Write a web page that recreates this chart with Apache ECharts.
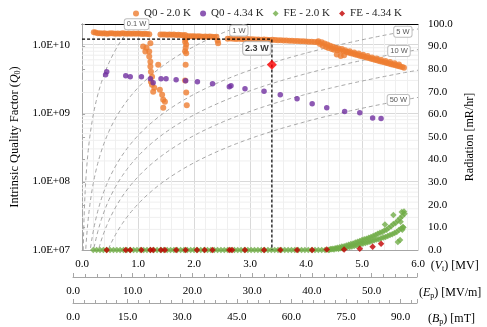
<!DOCTYPE html>
<html>
<head>
<meta charset="utf-8">
<script src="https://cdn.jsdelivr.net/npm/echarts@6/dist/echarts.min.js"></script>
<style>
  html, body {margin: 0; padding: 0; background: #fff;}
  #chart {width: 487px; height: 327px;}
</style>
</head>
<body>
<div id="chart"></div>
<script>
const serif = 'Liberation Serif';
const sans = 'Liberation Sans';

// Q0 - 2.0 K : accelerating voltage [MV] / Q0
const q20V = [
  0.21,0.24,0.28,0.32,0.36,0.40,0.44,0.48,0.52,0.56,0.60,0.64,0.68,0.72,0.76,0.80,0.84,0.88,0.92,0.96,1.00,1.04,1.08,1.12,1.16,1.20,
  1.09,1.15,1.13,1.20,1.22,1.20,1.22,1.22,1.23,1.25,1.23,1.25,1.29,1.27,1.36,1.39,1.43,1.45,1.48,1.45,
  1.40,1.44,1.48,1.52,1.56,1.60,1.64,1.68,1.72,1.76,1.80,1.84,
  1.85,1.84,1.86,1.85,1.84,1.86,1.85,1.84,1.86,1.87,
  1.88,1.92,1.96,2.00,2.04,2.08,2.12,2.16,2.20,2.24,2.28,2.32,2.36,2.40,2.42,2.43,
  2.60,2.65,2.70,2.75,2.80,2.85,2.90,2.95,3.00,3.05,3.10,3.15,3.20,3.25,3.30,3.35,3.40,3.45,3.50,3.55,3.60,3.65,3.70,3.75,3.80,3.85,3.90,3.95,4.00,4.05,4.10,4.15,4.20,
  4.22,4.25,4.28,4.30,4.33,4.36,4.38,4.40,4.43,4.46,4.48,4.50,4.53,4.55,4.56,4.58,4.61,4.62,4.64,4.67,4.68,4.70,4.73,
  4.76,4.80,4.84,4.88,4.92,4.96,5.00,5.04,5.08,5.12,5.16,5.20,5.24,5.28,5.32,5.36,5.40,5.44,5.48,5.52,5.56,5.60,5.64,5.68,5.72,5.75,
  4.78,4.86,4.94,5.02,5.10,5.18,5.26,5.34,5.42,5.50,5.58,5.66
];
const q20Q = [
  1.52e10,1.50e10,1.47e10,1.46e10,1.45e10,1.46e10,1.44e10,1.45e10,1.46e10,1.45e10,1.44e10,1.45e10,1.44e10,1.46e10,1.45e10,1.44e10,1.45e10,1.44e10,1.45e10,1.44e10,1.45e10,1.44e10,1.43e10,1.44e10,1.43e10,1.42e10,
  9.35e9,9.0e9,7.9e9,7.9e9,1.05e10,6.7e9,5.6e9,4.8e9,4.0e9,3.4e9,2.87e9,2.6e9,2.35e9,2.05e9,5.1e9,2.19e9,1.85e9,1.57e9,1.46e9,1.2e9,
  1.40e10,1.41e10,1.40e10,1.39e10,1.40e10,1.39e10,1.40e10,1.38e10,1.39e10,1.38e10,1.37e10,1.38e10,
  1.2e10,1.1e10,1.0e10,9.0e9,8.0e9,7.5e9,5.1e9,3.0e9,2.0e9,1.3e9,
  1.33e10,1.32e10,1.33e10,1.32e10,1.31e10,1.32e10,1.31e10,1.30e10,1.31e10,1.30e10,1.31e10,1.30e10,1.29e10,1.30e10,1.15e10,1.05e10,
  1.22e10,1.23e10,1.22e10,1.21e10,1.22e10,1.21e10,1.20e10,1.21e10,1.20e10,1.20e10,1.19e10,1.19e10,1.18e10,1.19e10,1.18e10,1.17e10,1.18e10,1.17e10,1.16e10,1.16e10,1.15e10,1.15e10,1.14e10,1.14e10,1.13e10,1.13e10,1.12e10,1.12e10,1.11e10,1.10e10,1.10e10,1.09e10,1.08e10,
  1.12e10,1.02e10,1.08e10,9.6e9,1.04e10,9.2e9,1.0e10,8.9e9,9.6e9,8.6e9,9.3e9,8.4e9,9.0e9,7.2e9,8.3e9,8.8e9,8.2e9,6.8e9,8.6e9,8.0e9,7.0e9,8.3e9,7.8e9,
  7.64e9,7.48e9,7.33e9,7.19e9,7.04e9,6.90e9,6.76e9,6.63e9,6.50e9,6.35e9,6.22e9,6.10e9,5.97e9,5.85e9,5.73e9,5.62e9,5.51e9,5.40e9,5.29e9,5.18e9,5.08e9,4.98e9,4.87e9,4.78e9,4.69e9,4.60e9,
  8.0e9,7.7e9,7.4e9,7.1e9,6.8e9,6.5e9,6.25e9,6.0e9,5.78e9,5.55e9,5.33e9,5.12e9
];

// Q0 - 4.34 K
const q434V = [0.42,0.44,0.78,0.86,1.06,1.22,1.27,1.41,1.50,1.68,1.85,2.06,2.33,2.63,2.66,2.91,3.25,3.54,3.84,4.11,4.37,4.69,4.96,5.19,5.34];
const q434Q = [3.64e9,4.03e9,3.52e9,3.4e9,3.4e9,3.18e9,2.78e9,3.18e9,3.18e9,3.07e9,2.97e9,2.87e9,2.69e9,2.43e9,2.51e9,2.27e9,2.08e9,1.85e9,1.62e9,1.37e9,1.2e9,1.05e9,1.01e9,8.5e8,8.3e8];

// FE - 2.0 K : radiation [mR/hr]; flat part reads 0.0
const fe20FlatV = [
  0.20,0.26,0.32,0.38,0.44,0.50,0.56,0.62,0.68,0.74,0.80,0.86,0.92,0.98,1.04,1.10,1.16,1.22,1.28,1.34,1.40,1.46,1.52,1.58,1.64,1.70,
  1.76,1.82,1.88,1.94,2.00,2.06,2.12,2.18,2.24,2.30,2.36,2.42,2.48,2.54,2.60,2.66,2.72,2.78,2.84,2.90,2.96,3.02,3.08,3.14,3.20,3.26,
  3.32,3.38,3.44,3.50,3.56,3.62,3.68,3.74,3.80,3.86,3.92,3.98,4.04,4.10,4.16,4.22,4.28,4.34,4.40
];
const fe20RiseV = [
  4.42,4.46,4.50,4.54,4.58,4.62,4.66,4.70,4.74,4.78,4.82,4.86,4.90,4.94,4.98,5.02,5.06,5.10,5.14,5.18,5.22,5.26,5.30,5.34,5.38,5.42,5.46,5.50,5.54,5.58,5.62,5.66,5.70,5.74,
  4.44,4.48,4.52,4.56,4.60,4.64,4.68,4.72,4.76,4.80,4.84,4.88,4.92,4.96,5.00,5.04,5.08,5.12,5.16,5.20,5.24,5.28,5.32,5.36,5.40,5.44,5.48,5.52,5.56,5.60,5.64,5.68,5.72,5.76,
  5.41,5.56,5.64,5.68,5.72,5.73,5.75,5.71,5.69
];
const fe20RiseR = [
  0.1,0.3,0.2,0.5,0.4,0.8,0.7,1.0,1.2,1.3,1.6,1.8,2.0,2.3,2.6,2.9,3.1,3.4,3.7,4.0,4.3,4.6,4.8,5.2,5.5,5.8,6.2,6.6,7.0,7.5,8.0,8.8,9.5,10.0,
  0.4,0.6,0.8,1.0,1.2,1.5,1.7,2.0,2.3,2.6,2.9,3.3,3.6,4.0,4.4,4.8,5.0,5.4,5.8,6.2,6.6,7.2,7.6,8.0,8.6,9.0,9.8,10.5,11.5,12.0,13.0,14.0,15.0,16.0,
  11.3,15.5,3.5,4.4,9.0,10.2,17.0,16.8,12.5
];

// FE - 4.34 K
const fe434V = [0.44,0.78,0.86,1.06,1.22,1.27,1.41,1.48,1.68,1.85,2.05,2.19,2.33,2.63,2.68,2.91,3.25,3.54,3.84,4.11,4.37,4.68,4.96,5.19,5.34];
const fe434R = [0,0,0,0,0,0,0,0,0,0,0,0,0,0,0,0,0,0,0,0,0.2,0.2,0.6,1.4,2.8];

// operating point 2.3 W
const opV = 3.39;
const opQ = 1.2e10;
const opRad = 82;

// constant dissipated power guide lines: Q0 = qPerWatt * Vt^2 / P
const powerLevels = [0.1, 1, 5, 10, 20, 50];
const qPerWatt = 2.35e9;
// where each curve carries its tag (voltage along the curve) and a pixel nudge
const powerTags = {
  0.1: {v: 0.92, text: '0.1 W', off: [3, 0]},
  1: {v: 2.80, text: '1 W', off: [0, 4]},
  5: {v: 5.73, text: '5 W', off: [0, 0]},
  10: {v: 5.66, text: '10 W', off: [0, -2]},
  50: {v: 5.65, text: '50 W', off: [0, -1]}
};

const zip = (xs, ys) => xs.map((x, i) => [x, ys[i]]);
const powerQ = (p, v) => qPerWatt * v * v / p;
function powerCurve(p) {
  const pts = [];
  for (let v = 0.005; v <= 6.0001; v += (v < 0.4 ? 0.005 : 0.04)) pts.push([v, powerQ(p, v)]);
  return pts;
}

const gridColor = '#d9d9d9';
const minorColor = '#efefef';
const axisColor = '#a6a6a6';

// minor log grid lines 2..9 x 10^n
const minorGridValues = [];
for (let d = 7; d <= 9; d++) {
  for (let k = 2; k <= 9; k++) minorGridValues.push(k * Math.pow(10, d));
}

const rich = {
  i: {fontFamily: serif, fontSize: 12, fontStyle: 'italic', color: '#000'},
  s: {fontFamily: serif, fontSize: 8, color: '#000', padding: [6, 0, 0, 0]}
};
const lowerName = {
  fontFamily: serif, fontSize: 12, color: '#000',
  align: 'left', verticalAlign: 'top', padding: [9, 0, 0, 0], rich
};
const tickLabel = {fontFamily: serif, fontSize: 11, color: '#000', margin: 9, formatter: v => v.toFixed(1)};

function powerSeries(p) {
  const s = {
    type: 'line', xAxisIndex: 0, yAxisIndex: 0, data: powerCurve(p),
    showSymbol: false, symbol: 'none', silent: true, z: 1,
    lineStyle: {color: '#a6a6a6', width: 1, type: [4, 3]}
  };
  const t = powerTags[p];
  if (t) {
    s.markPoint = {
      silent: true, symbol: 'circle', symbolSize: 0, z: 8,
      itemStyle: {color: 'rgba(0,0,0,0)'},
      label: {
        show: true, position: 'inside', formatter: t.text, offset: t.off,
        fontFamily: sans, fontSize: 7.5, color: '#595959', opacity: 1,
        backgroundColor: '#fff', borderColor: '#bfbfbf', borderWidth: 1, borderRadius: 2, padding: [1, 2]
      },
      data: [{coord: [t.v, powerQ(p, t.v)]}]
    };
  }
  return s;
}

const chart = echarts.init(document.getElementById('chart'));
chart.setOption({
  animation: false,
  backgroundColor: '#fff',
  legend: {
    top: 3, left: 128, itemWidth: 6, itemHeight: 6, itemGap: 9,
    data: [
      {name: 'Q0 - 2.0 K', icon: 'circle'},
      {name: 'Q0 - 4.34 K', icon: 'circle'},
      {name: 'FE - 2.0 K', icon: 'diamond'},
      {name: 'FE - 4.34 K', icon: 'diamond'}
    ],
    textStyle: {fontFamily: serif, fontSize: 11, color: '#262626'}
  },
  grid: [
    {left: 78, right: 69, top: 24, bottom: 77},
    {left: 73, right: 70, top: 24, bottom: 77}
  ],
  xAxis: [
    {
      type: 'value', gridIndex: 0, min: 0, max: 6, interval: 1, position: 'bottom',
      axisLine: {onZero: false, lineStyle: {color: axisColor}},
      axisTick: {show: false},
      minorTick: {show: false, splitNumber: 5},
      axisLabel: tickLabel,
      splitLine: {lineStyle: {color: gridColor}},
      minorSplitLine: {show: true, lineStyle: {color: minorColor}},
      name: '({i|V}{s|t}) [MV]', nameLocation: 'end', nameGap: 10, nameTextStyle: lowerName
    },
    {
      type: 'value', gridIndex: 1, min: 0, max: 57.6, interval: 10, position: 'bottom', offset: 27,
      axisLine: {onZero: false, lineStyle: {color: axisColor}},
      axisTick: {show: true, inside: true, length: 4, lineStyle: {color: axisColor}},
      minorTick: {show: true, splitNumber: 5, length: 3, lineStyle: {color: axisColor}},
      axisLabel: Object.assign({}, tickLabel, {showMaxLabel: false}),
      splitLine: {show: false},
      name: '({i|E}{s|p}) [MV/m]', nameLocation: 'end', nameGap: 2, nameTextStyle: lowerName
    },
    {
      type: 'value', gridIndex: 1, min: 0, max: 94.5, interval: 15, position: 'bottom', offset: 53,
      axisLine: {onZero: false, lineStyle: {color: axisColor}},
      axisTick: {show: true, inside: true, length: 4, lineStyle: {color: axisColor}},
      minorTick: {show: true, splitNumber: 5, length: 3, lineStyle: {color: axisColor}},
      axisLabel: Object.assign({}, tickLabel, {showMaxLabel: false}),
      splitLine: {show: false},
      name: '({i|B}{s|p}) [mT]', nameLocation: 'end', nameGap: 11, nameTextStyle: lowerName
    },
    {
      type: 'value', gridIndex: 0, min: 0, max: 6, position: 'top',
      axisLine: {onZero: false, lineStyle: {color: '#000', width: 1}},
      axisTick: {show: false}, axisLabel: {show: false}, splitLine: {show: false}
    }
  ],
  yAxis: [
    {
      type: 'log', gridIndex: 0, logBase: 10, min: 1e7, max: 2e10, position: 'left',
      axisLine: {show: true, lineStyle: {color: axisColor}},
      axisTick: {show: false},
      axisLabel: {
        fontFamily: serif, fontSize: 11, color: '#000', margin: 12,
        formatter: v => {
          const e = Math.log10(v);
          if (Math.abs(e - Math.round(e)) > 1e-6) return '';
          return '1.0E+' + String(Math.round(e)).padStart(2, '0');
        }
      },
      splitLine: {lineStyle: {color: gridColor}},
      name: 'Intrinsic Quality Factor ({i|Q}{s|0})', nameLocation: 'middle', nameGap: 57,
      nameTextStyle: {fontFamily: serif, fontSize: 12.5, color: '#000', rich}
    },
    {
      type: 'value', gridIndex: 0, min: 0, max: 100, interval: 10, position: 'right',
      axisLine: {show: true, lineStyle: {color: axisColor}},
      axisTick: {show: true, length: 3, lineStyle: {color: axisColor}},
      axisLabel: {fontFamily: serif, fontSize: 11, color: '#000', margin: 10, formatter: v => v.toFixed(1)},
      splitLine: {show: false},
      name: 'Radiation [mR/hr]', nameLocation: 'middle', nameGap: 38, nameRotate: 90,
      nameTextStyle: {fontFamily: serif, fontSize: 12, color: '#000'}
    },
    {type: 'value', gridIndex: 1, show: false, min: 0, max: 1}
  ],
  series: [
    ...minorGridValues.map(q => ({
      type: 'line', xAxisIndex: 0, yAxisIndex: 0, data: [[0, q], [6, q]],
      symbol: 'none', silent: true, z: 0,
      lineStyle: {color: minorColor, width: 1}
    })),
    ...powerLevels.map(powerSeries),
    {
      name: 'Q0 - 2.0 K', type: 'scatter', xAxisIndex: 0, yAxisIndex: 0,
      data: zip(q20V, q20Q), symbol: 'circle', symbolSize: 6, z: 3,
      itemStyle: {color: '#ED7D31'}
    },
    {
      name: 'Q0 - 4.34 K', type: 'scatter', xAxisIndex: 0, yAxisIndex: 0,
      data: zip(q434V, q434Q), symbol: 'circle', symbolSize: 5.5, z: 3,
      itemStyle: {color: '#7030A0'}
    },
    {
      name: 'FE - 2.0 K', type: 'scatter', xAxisIndex: 0, yAxisIndex: 1,
      data: fe20FlatV.map(v => [v, 0]).concat(zip(fe20RiseV, fe20RiseR)),
      symbol: 'diamond', symbolSize: 6.5, z: 3, clip: false,
      itemStyle: {color: '#70AD47'}
    },
    {
      name: 'FE - 4.34 K', type: 'scatter', xAxisIndex: 0, yAxisIndex: 1,
      data: zip(fe434V, fe434R), symbol: 'diamond', symbolSize: 6.5, z: 4, clip: false,
      itemStyle: {color: '#C00000'}
    },
    {
      type: 'line', xAxisIndex: 0, yAxisIndex: 0, silent: true, z: 5,
      data: [[0, opQ], [opV, opQ], [opV, 1e7]], symbol: 'none',
      lineStyle: {color: '#000', width: 1.2, type: [3, 2]}
    },
    {
      type: 'scatter', xAxisIndex: 0, yAxisIndex: 1, silent: true, z: 7,
      data: [[opV, opRad]], symbol: 'diamond', symbolSize: 10,
      itemStyle: {color: '#FF0000'},
      label: {
        show: true, formatter: '2.3 W', position: 'top', offset: [-15, 0],
        fontFamily: sans, fontWeight: 'bold', fontSize: 9, color: '#000',
        backgroundColor: '#fff', borderColor: '#a6a6a6', borderWidth: 1, borderRadius: 3, padding: [2, 2]
      }
    }
  ]
});
</script>
</body>
</html>
